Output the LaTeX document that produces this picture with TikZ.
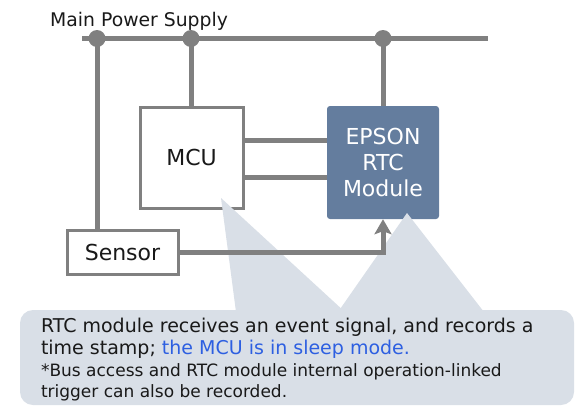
\documentclass[tikz,border=0pt]{standalone}
\usepackage{fontspec}
\setmainfont{DejaVu Sans}
\usetikzlibrary{arrows.meta}
\definecolor{wire}{RGB}{128,128,128}
\definecolor{rtcblue}{RGB}{100,125,158}
\definecolor{notebg}{RGB}{217,223,231}
\definecolor{hiblue}{RGB}{45,95,225}
\definecolor{ink}{RGB}{25,25,25}
\tikzset{
  wireline/.style={draw=wire, line width=5pt},
  whitebox/.style={draw=wire, line width=3pt, fill=white, text=ink, font=\fontsize{22}{26}\selectfont},
  rtcbox/.style={fill=rtcblue, rounded corners=3pt, text=white, align=center, font=\fontsize{22}{26}\selectfont},
  junction/.style={fill=wire},
  notebox/.style={fill=notebg, rounded corners=13pt, text=ink, inner xsep=21pt, inner ysep=0pt},
  pointer/.style={fill=notebg}
}
\newcommand{\bigline}{\fontsize{19.0}{21.7}\selectfont}
\newcommand{\smallline}{\fontsize{17.0}{21.7}\selectfont}
\begin{document}
\begin{tikzpicture}[x=1pt,y=-1pt]
\useasboundingbox (0,0) rectangle (583,413);
% title
\node[anchor=base west, inner sep=0pt, text=ink, font=\fontsize{18.8}{22}\selectfont] (title) at (50,26) {Main Power Supply};
% bus and junctions
\coordinate (busL) at (82,38.5);
\coordinate (busR) at (488,38.5);
\coordinate (j1) at (97,38.5);
\coordinate (j2) at (191,38.5);
\coordinate (j3) at (383,38.5);
% boxes
\node[whitebox, minimum width=103pt, minimum height=101pt] (mcu) at (191.5,157.5) {MCU};
\node[rtcbox, minimum width=112pt, minimum height=113pt] (rtc) at (383,162.5) {EPSON\\RTC\\Module};
\node[whitebox, minimum width=111pt, minimum height=44pt] (sensor) at (122.5,252) {Sensor};
% callout
\node[notebox, minimum width=554pt, minimum height=95pt] (note) at (297,357.5) {%
\parbox{512pt}{\parindent=0pt\raggedright
\bigline\rule{0pt}{19pt}RTC module receives an event signal, and records a\par
\bigline time stamp; \textcolor{hiblue}{the MCU is in sleep mode.}\par
\smallline *Bus access and RTC module internal operation-linked\par
\smallline trigger can also be recorded.\par}};
\fill[pointer] (221,198) -- (236,312) -- (345,312) -- cycle;
\fill[pointer] (407,213) -- (338,312) -- (484,312) -- cycle;
% wires
\draw[wireline] (busL) -- (busR);
\draw[wireline] (j1) -- (j1 |- sensor.north);
\draw[wireline] (j2) -- (j2 |- mcu.north);
\draw[wireline] (j3) -- (rtc.north);
\draw[wireline] ([yshift=17.5pt]mcu.east) coordinate (b1) -- (b1 -| rtc.west);
\draw[wireline] ([yshift=-19.5pt]mcu.east) coordinate (b2) -- (b2 -| rtc.west);
\draw[wireline, -{Stealth[length=15pt, width=17pt, inset=3pt]}] (sensor.east) -| (rtc.south);
\foreach \j in {j1,j2,j3} \fill[junction] (\j) circle (8.5pt);
\end{tikzpicture}
\end{document}
